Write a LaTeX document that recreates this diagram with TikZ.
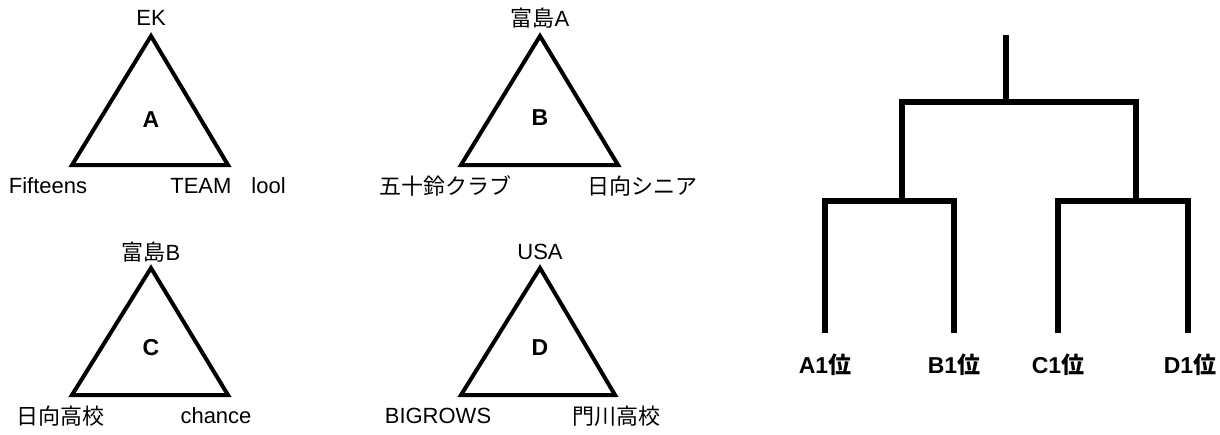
\documentclass[tikz,border=0pt]{standalone}
\usepackage{fontspec}
\setmainfont{Liberation Sans}
\newfontfamily\jp{Noto Sans CJK JP}
\usetikzlibrary{positioning}

\begin{document}
\begin{tikzpicture}[x=0.5pt,y=-0.5pt,
    tri/.style={line width=2pt,line join=miter},
    team/.style={inner sep=0pt,font=\fontsize{11}{13}\selectfont},
    grp/.style={inner sep=0pt,font=\fontsize{11.5}{13}\selectfont\bfseries},
    tree/.style={line width=2.6pt,line join=miter},
    rank/.style={inner sep=0pt,font=\fontsize{11.5}{13}\selectfont\bfseries}]

  \useasboundingbox (0,0) rectangle (1220,434);

  % group A
  \coordinate (a_top) at (151,36);
  \coordinate (a_left) at (72,165);
  \coordinate (a_right) at (228,165);
  \draw[tri] (a_top) -- (a_left) -- (a_right) -- cycle;
  \node[grp] (a_name) at (151,120) {A};
  \node[team] (a_t) at (151,18) {EK};
  \node[team] (a_l) at (48,186) {Fifteens};
  \node[team] (a_r) at (228,186) {TEAM\hspace{10pt}lool};

  % group B
  \coordinate (b_top) at (540,36);
  \coordinate (b_left) at (461,165);
  \coordinate (b_right) at (618,165);
  \draw[tri] (b_top) -- (b_left) -- (b_right) -- cycle;
  \node[grp] (b_name) at (540,118) {B};
  \node[team] (b_t) at (540,18) {{\jp 富島}A};
  \node[team] (b_l) at (445,186) {\jp 五十鈴クラブ};
  \node[team] (b_r) at (642,186) {\jp 日向シニア};

  % group C
  \coordinate (c_top) at (151,268);
  \coordinate (c_left) at (72,395);
  \coordinate (c_right) at (228,395);
  \draw[tri] (c_top) -- (c_left) -- (c_right) -- cycle;
  \node[grp] (c_name) at (151,348) {C};
  \node[team] (c_t) at (151,252) {{\jp 富島}B};
  \node[team] (c_l) at (61,416) {\jp 日向高校};
  \node[team] (c_r) at (216,416) {chance};

  % group D
  \coordinate (d_top) at (540,268);
  \coordinate (d_left) at (461,395);
  \coordinate (d_right) at (615,395);
  \draw[tri] (d_top) -- (d_left) -- (d_right) -- cycle;
  \node[grp] (d_name) at (540,348) {D};
  \node[team] (d_t) at (540,252) {USA};
  \node[team] (d_l) at (438,416) {BIGROWS};
  \node[team] (d_r) at (616,416) {\jp 門川高校};

  % final bracket
  \coordinate (root) at (1006,35);
  \coordinate (final) at (1006,102);
  \coordinate (semi_l) at (902,102);
  \coordinate (semi_r) at (1136,102);
  \coordinate (semi_l_b) at (902,201);
  \coordinate (semi_r_b) at (1136,201);
  \coordinate (a1) at (825,201);
  \coordinate (b1) at (954,201);
  \coordinate (c1) at (1058,201);
  \coordinate (d1) at (1188,201);
  \coordinate (a1_end) at (825,333);
  \coordinate (b1_end) at (954,333);
  \coordinate (c1_end) at (1058,333);
  \coordinate (d1_end) at (1188,333);
  \node[rank] (a1_name) at (825,365) {A1{\jp 位}};
  \node[rank] (b1_name) at (954,365) {B1{\jp 位}};
  \node[rank] (c1_name) at (1058,365) {C1{\jp 位}};
  \node[rank] (d1_name) at (1190,365) {D1{\jp 位}};
  \draw[tree] (root) -- (final);
  \draw[tree] (semi_l_b) -- (semi_l) -- (semi_r) -- (semi_r_b);
  \draw[tree] (a1_end) -- (a1) -- (b1) -- (b1_end);
  \draw[tree] (c1_end) -- (c1) -- (d1) -- (d1_end);

\end{tikzpicture}
\end{document}
